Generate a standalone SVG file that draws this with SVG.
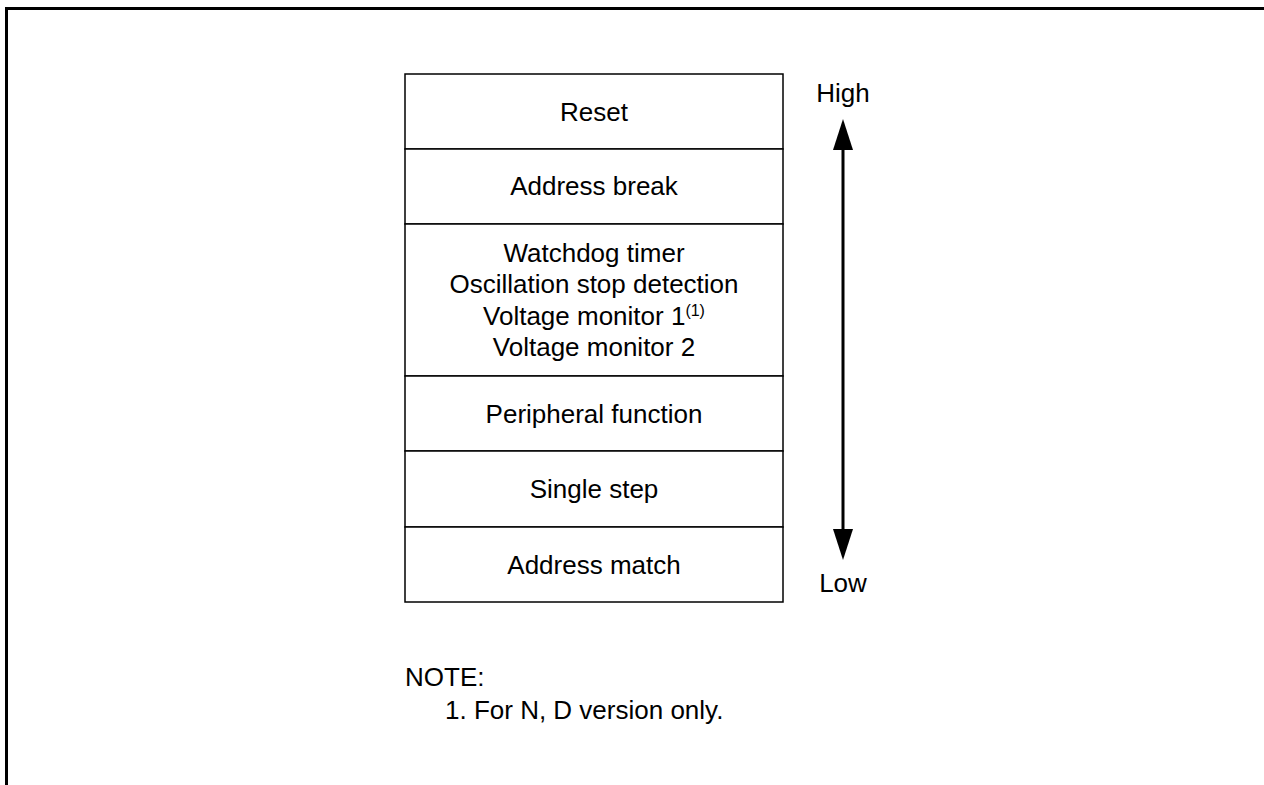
<svg xmlns="http://www.w3.org/2000/svg" width="1264" height="785" viewBox="0 0 1264 785">
<style>
text{font-family:"Liberation Sans",Arial,sans-serif;font-size:26px;fill:#000}
.c{text-anchor:middle}
.box{fill:#fff;stroke:#000;stroke-width:1.5}
</style>
<rect width="1264" height="785" fill="#fff"/>
<g id="frame"><polyline points="6.5,785 6.5,8.5 1264,8.5" fill="none" stroke="#000" stroke-width="3"/></g>
<g id="n-reset"><rect class="box" x="405" y="74" width="378" height="75"/><text class="c" x="594" y="121">Reset</text></g>
<g id="n-addrbreak"><rect class="box" x="405" y="149" width="378" height="75"/><text class="c" x="594" y="195">Address break</text></g>
<g id="n-watchdog"><rect class="box" x="405" y="224" width="378" height="152"/>
<text class="c" x="594" y="262">Watchdog timer</text>
<text class="c" x="594" y="293">Oscillation stop detection</text>
<text class="c" x="594" y="325">Voltage monitor 1<tspan font-size="16" dy="-9">(1)</tspan></text>
<text class="c" x="594" y="356">Voltage monitor 2</text></g>
<g id="n-periph"><rect class="box" x="405" y="376" width="378" height="75"/><text class="c" x="594" y="423">Peripheral function</text></g>
<g id="n-single"><rect class="box" x="405" y="451" width="378" height="76"/><text class="c" x="594" y="498">Single step</text></g>
<g id="n-addrmatch"><rect class="box" x="405" y="527" width="378" height="75"/><text class="c" x="594" y="574">Address match</text></g>
<g id="connectors">
<line x1="843" y1="140" x2="843" y2="540" stroke="#000" stroke-width="3"/>
<polygon points="843,119 833,150 853,150" fill="#000"/>
<polygon points="843,560 833,529 853,529" fill="#000"/>
</g>
<g id="labels">
<text class="c" x="843" y="102">High</text>
<text class="c" x="843" y="592">Low</text>
<text x="405" y="686">NOTE:</text>
<text x="445" y="719">1. For N, D version only.</text>
</g>
</svg>
